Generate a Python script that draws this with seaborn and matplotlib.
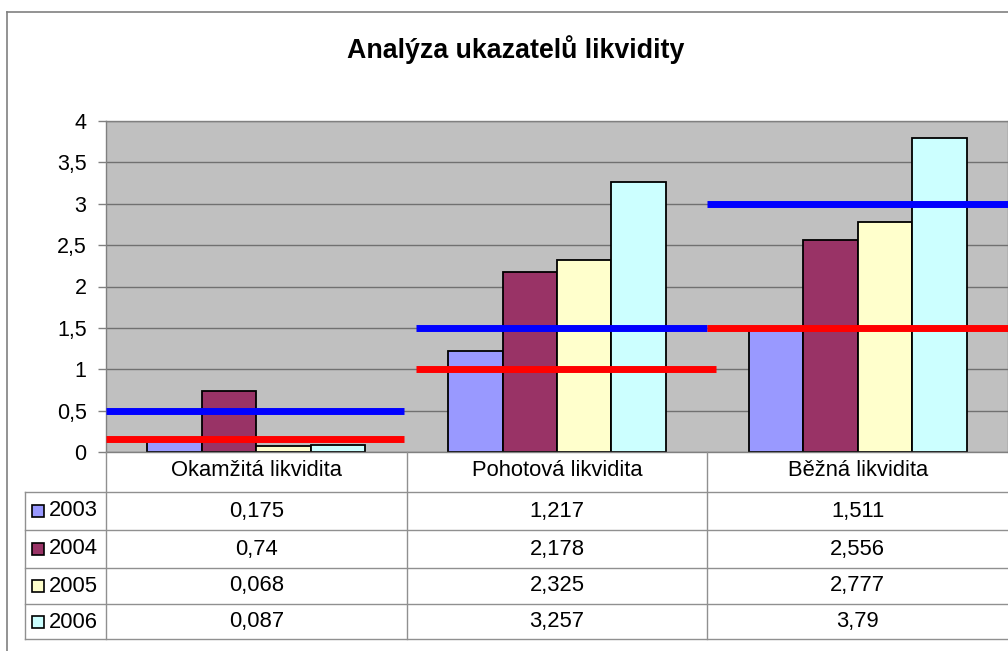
import matplotlib
matplotlib.use("Agg")
import matplotlib.pyplot as plt
import matplotlib.transforms as mtransforms
from matplotlib.lines import Line2D
from matplotlib.patches import Rectangle
import numpy as np
import pandas as pd
import seaborn as sns

# data
categories = ["Okamžitá likvidita", "Pohotová likvidita", "Běžná likvidita"]
years = ["2003", "2004", "2005", "2006"]
values = {
    "2003": [0.175, 1.217, 1.511],
    "2004": [0.74, 2.178, 2.556],
    "2005": [0.068, 2.325, 2.777],
    "2006": [0.087, 3.257, 3.79],
}
colors = ["#9999FF", "#993366", "#FFFFCC", "#CCFFFF"]

# recommended bounds drawn as bars across each group (start, end in category units)
upper_bounds = [0.5, 1.5, 3.0]
upper_span = [(-0.5, 0.49), (0.53, 1.5), (1.5, 2.5)]
lower_bounds = [0.16, 1.0, 1.5]
lower_span = [(-0.5, 0.49), (0.53, 1.53), (1.5, 2.5)]

df = pd.DataFrame([(c, y, values[y][i]) for y in years for i, c in enumerate(categories)],
                  columns=["kategorie", "rok", "hodnota"])

W, H = 1008, 651
fig = plt.figure(figsize=(W / 100, H / 100), dpi=100, facecolor="white")
plt.rcParams["font.family"] = ["Liberation Sans", "DejaVu Sans"]
fs = 15.8


def fx(px):
    return px / W


def fy(py):
    return 1 - py / H


ax = fig.add_axes([fx(106), fy(452), fx(1008) - fx(106), fy(121) - fy(452)])
ax.set_facecolor("#C0C0C0")

sns.barplot(data=df, x="kategorie", y="hodnota", hue="rok", order=categories,
            hue_order=years, palette=colors, width=0.725, edgecolor="black",
            linewidth=1.3, saturation=1, legend=False, ax=ax, zorder=2)

for v, (a, b) in zip(upper_bounds, upper_span):
    ax.hlines(v, a, b, color="#0000FF", linewidth=5, zorder=4)
for v, (a, b) in zip(lower_bounds, lower_span):
    ax.hlines(v, a, b, color="#FF0000", linewidth=5, zorder=5)

ax.set_xlim(-0.5, 2.5)
ax.set_ylim(0, 4)
yt = np.arange(0, 4.01, 0.5)
ax.set_yticks(yt)
ax.set_yticklabels([("%g" % t).replace(".", ",") for t in yt], fontsize=15.5)
ax.yaxis.grid(True, color="#707070", linewidth=1)
ax.set_axisbelow(True)
ax.set_xticks([])
ax.set_xlabel("")
ax.set_ylabel("")
ax.tick_params(axis="y", length=6, width=1, color="#808080", pad=8)
for s in ax.spines.values():
    s.set_color("#808080")
    s.set_linewidth(1)

fig.text(fx(516), fy(50), "Analýza ukazatelů likvidity", ha="center", va="center",
         fontsize=19.3, fontweight="bold")

# data table under the chart
trans = mtransforms.blended_transform_factory(ax.transData, fig.transFigure)
grid_c = "#909090"
row_lines = [491.7, 530, 567.7, 604, 639.3]
row_mid = [511, 549, 586, 622]

for py in row_lines:
    fig.add_artist(Line2D([fx(25), fx(1008)], [fy(py), fy(py)], color=grid_c, lw=1))
fig.add_artist(Line2D([fx(25), fx(25)], [fy(491.7), fy(639.3)], color=grid_c, lw=1))
for xc in [-0.5, 0.5, 1.5]:
    fig.add_artist(Line2D([xc, xc], [fy(452), fy(639.3)], color=grid_c, lw=1, transform=trans))

for i, c in enumerate(categories):
    fig.text(i, fy(471), c, transform=trans, ha="center", va="center", fontsize=fs)
    for j, y in enumerate(years):
        fig.text(i, fy(row_mid[j]), str(values[y][i]).replace(".", ","), transform=trans,
                 ha="center", va="center", fontsize=fs)

for j, y in enumerate(years):
    fig.add_artist(Rectangle((fx(32), fy(row_mid[j] + 6)), fx(12), fy(0) - fy(12),
                             facecolor=colors[j], edgecolor="black", lw=1.2,
                             transform=fig.transFigure))
    fig.text(fx(49), fy(row_mid[j]), y, ha="left", va="center", fontsize=fs)

# outer chart frame
fig.add_artist(Line2D([fx(7), fx(7)], [fy(12), 0], color="#808080", lw=1.2))
fig.add_artist(Line2D([fx(7), 1], [fy(12), fy(12)], color="#808080", lw=1.2))

plt.savefig("out.png", dpi=100)
plt.close()
